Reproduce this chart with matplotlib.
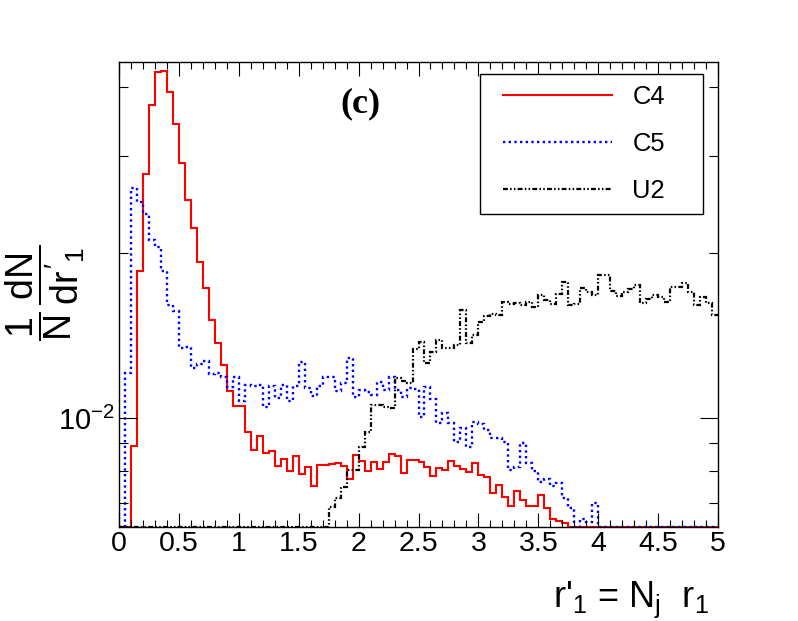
import numpy as np
import matplotlib
matplotlib.use("Agg")
import matplotlib.pyplot as plt
from matplotlib.lines import Line2D
from matplotlib.legend_handler import HandlerLine2D
from matplotlib.ticker import FixedLocator, NullFormatter, MultipleLocator, FuncFormatter

# ---------------- data (normalised 1/N dN/dr'_1, 100 bins on [0,5]) ----------------
x_min, x_max, n_bins = 0.0, 5.0, 100

c4 = [0, 0, 0.00891, 0.01855, 0.0278, 0.0372, 0.0427, 0.0429, 0.0393, 0.0343,
      0.0292, 0.0250, 0.0222, 0.0192, 0.01725, 0.01508, 0.01371, 0.0125, 0.01121, 0.01052,
      0.01052, 0.00943, 0.00874, 0.00929, 0.00862, 0.00871, 0.00818, 0.00843, 0.00801, 0.00854,
      0.00792, 0.00815, 0.00753, 0.00821, 0.00821, 0.00825, 0.00829, 0.00819, 0.00775, 0.00856,
      0.00836, 0.00802, 0.00830, 0.00808, 0.00830, 0.00861, 0.00854, 0.00793, 0.00839, 0.00839,
      0.00833, 0.00815, 0.00785, 0.00812, 0.00804, 0.00835, 0.00819, 0.00808, 0.00798, 0.00827,
      0.00788, 0.00781, 0.00731, 0.00756, 0.00719, 0.00692, 0.00736, 0.00709, 0.00692, 0.00692,
      0.00725, 0.00686, 0.00654, 0.00650, 0.00643, 0, 0, 0, 0, 0,
      0, 0, 0, 0, 0, 0, 0, 0, 0, 0,
      0, 0, 0, 0, 0, 0, 0, 0, 0, 0]

c5 = [0, 0.01208, 0.0262, 0.0247, 0.0235, 0.0211, 0.0205, 0.01855, 0.01607, 0.01566,
      0.01339, 0.01349, 0.01233, 0.01254, 0.0127, 0.01203, 0.01209, 0.01188, 0.01139, 0.01188,
      0.01074, 0.01148, 0.01144, 0.01148, 0.01049, 0.01144, 0.01086, 0.01148, 0.01075, 0.01144,
      0.01263, 0.01133, 0.01098, 0.01144, 0.01189, 0.01187, 0.01121, 0.01157, 0.01284, 0.01092,
      0.01124, 0.01114, 0.01101, 0.01162, 0.01124, 0.01186, 0.01124, 0.01093, 0.01133, 0.01129,
      0.01005, 0.0114, 0.01082, 0.00978, 0.0102, 0.00978, 0.00905, 0.00958, 0.00887, 0.00985,
      0.00975, 0.00951, 0.00918, 0.00918, 0.00903, 0.00804, 0.00813, 0.00899, 0.00827, 0.00800,
      0.00763, 0.00775, 0.00752, 0.00761, 0.00714, 0.00686, 0, 0.00654, 0.00647, 0.00699,
      0, 0, 0, 0, 0, 0, 0, 0, 0, 0,
      0, 0, 0, 0, 0, 0, 0, 0, 0, 0]

u2 = [0, 0, 0, 0, 0, 0, 0, 0, 0, 0,
      0, 0, 0, 0, 0, 0, 0, 0, 0, 0,
      0, 0, 0, 0, 0, 0, 0, 0, 0, 0,
      0, 0, 0, 0, 0, 0.00689, 0.00714, 0.0075, 0.00804, 0.00804,
      0.00887, 0.00944, 0.01056, 0.01056, 0.01049, 0.01042, 0.01181, 0.01169, 0.01157, 0.01334,
      0.01377, 0.01258, 0.0132, 0.01387, 0.01339, 0.01339, 0.01358, 0.01573, 0.01368, 0.01416,
      0.01496, 0.01534, 0.01545, 0.0154, 0.01629, 0.01611, 0.01618, 0.01607, 0.01629, 0.01595,
      0.01675, 0.0164, 0.01611, 0.0168, 0.01771, 0.01607, 0.01611, 0.01723, 0.01699, 0.01675,
      0.01822, 0.01825, 0.01706, 0.01668, 0.01699, 0.01716, 0.01747, 0.01622, 0.01645, 0.01675,
      0.01663, 0.01629, 0.01734, 0.01734, 0.01759, 0.01696, 0.01607, 0.01663, 0.01618, 0.0154]

series_labels = ["C4", "C5", "U2"]
x_ticks_major = [0, 0.5, 1, 1.5, 2, 2.5, 3, 3.5, 4, 4.5, 5]
y_ticks_major = [0.01]
y_ticks_minor = [0.007, 0.008, 0.009, 0.02, 0.03, 0.04]
y_lim = (0.006344, 0.04451)

# ---------------- style ----------------
plt.rcParams['font.family'] = ['Liberation Sans', 'DejaVu Sans']
plt.rcParams['mathtext.fontset'] = 'custom'
plt.rcParams['mathtext.rm'] = 'Liberation Sans'
plt.rcParams['mathtext.it'] = 'Liberation Sans'
plt.rcParams['mathtext.bf'] = 'Liberation Sans:bold'
plt.rcParams['mathtext.sf'] = 'Liberation Sans'

styles = [
    dict(color="#ff0000", lw=1.5, ls="-"),
    dict(color="#0000ff", lw=1.7, ls=(0, (1.0, 1.4))),
    dict(color="#000000", lw=1.6, ls=(0, (2.2, 1.0, 0.7, 1.0, 0.7, 1.0))),
]

fig = plt.figure(figsize=(7.98, 6.21), dpi=100)
ax = fig.add_axes([119 / 798, 1 - 526.5 / 621, 599 / 798, 464.5 / 621])
ax.set_yscale('log')
ax.set_xlim(x_min, x_max)
ax.set_ylim(*y_lim)

edges = np.linspace(x_min, x_max, n_bins + 1)
handles = []
for vals, st, lab in zip([c4, c5, u2], styles, series_labels):
    v = np.maximum(np.asarray(vals, float), y_lim[0])  # ROOT draws empty bins on the frame
    ax.stairs(v, edges, baseline=None, color=st["color"], linewidth=st["lw"],
              linestyle=st["ls"], fill=False)
    h = Line2D([], [], color=st["color"], linewidth=st["lw"], linestyle=st["ls"])
    h.set_dash_capstyle('butt')
    handles.append(h)

# ticks
ax.xaxis.set_major_locator(FixedLocator(x_ticks_major))
ax.xaxis.set_minor_locator(MultipleLocator(0.1))
ax.xaxis.set_major_formatter(FuncFormatter(lambda v, p: f"{v:g}"))
ax.yaxis.set_major_locator(FixedLocator(y_ticks_major))
ax.yaxis.set_minor_locator(FixedLocator(y_ticks_minor))
ax.yaxis.set_minor_formatter(NullFormatter())
ax.tick_params(axis='x', which='major', direction='in', length=10, width=0.8,
               top=True, labelsize=20.5, pad=3)
ax.tick_params(axis='x', which='minor', direction='in', length=5, width=0.8, top=True)
ax.tick_params(axis='y', which='major', direction='in', length=13, width=0.8,
               right=True, labelsize=21, pad=3)
ax.tick_params(axis='y', which='minor', direction='in', length=6.5, width=0.8, right=True)
for s in ax.spines.values():
    s.set_linewidth(1.0)

# axis titles
ax.set_xlabel(r"r'$_{1}$ = N$_{j}$  r$_{1}$", fontsize=26, ha='right', va='baseline')
ax.xaxis.set_label_coords((709 - 119) / 599, (526.5 - 607.5) / 464.5)
fig.text(45 / 798, 1 - 293 / 621, r"$\dfrac{1}{N}\,\dfrac{dN}{dr'_{1}}$", rotation=90,
         ha='center', va='center', fontsize=27)

fig.text(360 / 798, 1 - 104 / 621, "(c)", family='Liberation Serif', weight='bold',
         fontsize=26, ha='center', va='center')

leg = ax.legend(handles, series_labels, loc='upper left',
                bbox_to_anchor=(480 / 798, 1 - 213 / 621, 223 / 798, 139 / 621),
                bbox_transform=fig.transFigure, mode='expand', fontsize=18.4,
                frameon=True, fancybox=False, edgecolor='black', framealpha=1,
                borderpad=0.42, handlelength=4.74, handletextpad=0.8,
                labelspacing=0.91, borderaxespad=0,
                handler_map={Line2D: HandlerLine2D(xpad=0.48)})
leg.get_frame().set_linewidth(1.0)

fig.savefig("out.png", dpi=100)
